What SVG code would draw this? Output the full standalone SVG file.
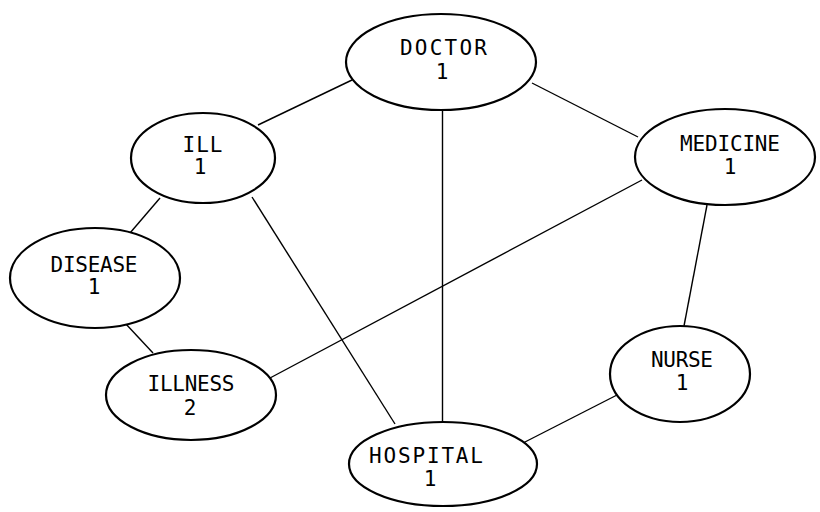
<svg xmlns="http://www.w3.org/2000/svg" width="820" height="512" viewBox="0 0 820 512">
<style>
.n{fill:#fff;stroke:#000;stroke-width:2.2}
.e{stroke:#000;stroke-width:1.4;fill:none}
text{font-family:"DejaVu Sans Mono","Liberation Mono",monospace;font-size:21px;fill:#000;text-anchor:middle}
</style>
<rect width="820" height="512" fill="#fff"/>
<g id="connectors">
<line class="e" x1="258" y1="125" x2="352" y2="80"/>
<line class="e" x1="532" y1="83" x2="638" y2="137"/>
<line class="e" x1="442.5" y1="110" x2="442.5" y2="423"/>
<line class="e" x1="160" y1="198" x2="130" y2="233"/>
<line class="e" x1="252" y1="197" x2="395" y2="424"/>
<line class="e" x1="642" y1="180" x2="270" y2="378"/>
<line class="e" x1="707" y1="205" x2="684" y2="326"/>
<line class="e" x1="125" y1="323" x2="153" y2="353"/>
<line class="e" x1="617" y1="395" x2="523" y2="443"/>
</g>
<g id="doctor">
<ellipse class="n" cx="441" cy="62" rx="95" ry="48"/>
<text x="443.5" y="55" textLength="87" lengthAdjust="spacing">DOCTOR</text>
<text x="442" y="79">1</text>
</g>
<g id="ill">
<ellipse class="n" cx="203" cy="158" rx="72" ry="45"/>
<text x="202.5" y="152" textLength="40" lengthAdjust="spacing">ILL</text>
<text x="200" y="174">1</text>
</g>
<g id="medicine">
<ellipse class="n" cx="725" cy="157" rx="90" ry="48"/>
<text x="730" y="151" textLength="100" lengthAdjust="spacing">MEDICINE</text>
<text x="730" y="174">1</text>
</g>
<g id="disease">
<ellipse class="n" cx="95" cy="278" rx="85" ry="50"/>
<text x="94" y="272" textLength="87" lengthAdjust="spacing">DISEASE</text>
<text x="94" y="294">1</text>
</g>
<g id="illness">
<ellipse class="n" cx="191" cy="395" rx="85" ry="45"/>
<text x="191" y="391" textLength="87" lengthAdjust="spacing">ILLNESS</text>
<text x="190" y="415">2</text>
</g>
<g id="nurse">
<ellipse class="n" cx="680" cy="374" rx="70" ry="48"/>
<text x="682" y="367" textLength="62" lengthAdjust="spacing">NURSE</text>
<text x="682" y="390">1</text>
</g>
<g id="hospital">
<ellipse class="n" cx="443" cy="464" rx="94" ry="42"/>
<text x="426" y="463" textLength="114" lengthAdjust="spacing">HOSPITAL</text>
<text x="430" y="486">1</text>
</g>
</svg>
